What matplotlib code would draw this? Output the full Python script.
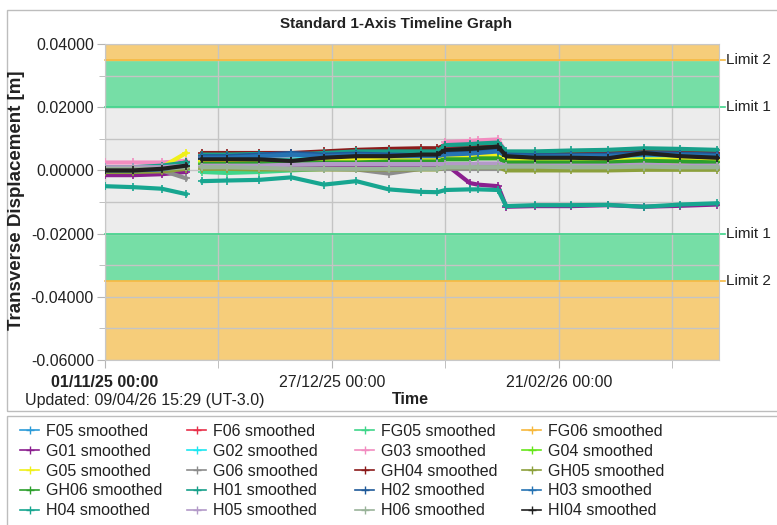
import numpy as np
import matplotlib
matplotlib.use("Agg")
import matplotlib.pyplot as plt
import matplotlib.dates as mdates
from matplotlib.lines import Line2D
from matplotlib.patches import Rectangle
from matplotlib.ticker import FixedLocator, FormatStrFormatter

plt.rcParams['font.family'] = ['Liberation Sans', 'DejaVu Sans']

# sample days after 01/11/25 (nan column = data gap)
days = [0, 7, 14, 20, 22, 24, 30, 38, 46, 54, 62, 70, 78, 82, 84, 90, 92, 97, 99, 106, 115, 124, 133, 142, 151]
nan = np.nan

# displacement values in mm
F05 = [0.5, 0.5, 0.8, 2.0, nan, 4.0, 4.0, 4.0, 3.8, 4.5, 5.0, 5.0, 5.2, 5.2, 6.8, 7.0, 7.3, 7.5, 4.8, 4.5, 4.5, 4.3, 5.8, 5.0, 4.5]
F06 = [1.0, 1.0, 1.2, 2.5, nan, 4.0, 4.2, 4.0, 3.8, 4.5, 5.0, 5.2, 5.5, 5.5, 7.0, 7.2, 7.5, 7.8, 4.0, 4.0, 3.8, 3.8, 5.0, 4.2, 4.0]
FG05 = [-0.5, -0.5, -0.3, 0.0, nan, -0.5, -0.8, -0.5, 0.0, 0.5, 0.5, 0.5, 0.5, 0.5, 1.5, 1.5, 1.5, 1.5, 1.0, 1.0, 1.0, 1.2, 1.2, 1.2, 1.0]
FG06 = [1.0, 1.0, 1.0, 2.0, nan, 3.0, 3.0, 3.0, 2.8, 3.0, 3.0, 3.2, 3.2, 3.2, 4.0, 4.0, 4.2, 4.2, 2.5, 2.5, 2.3, 2.5, 2.8, 2.8, 2.5]
G01 = [-1.5, -1.5, -1.2, -0.5, nan, 1.0, 1.0, 1.2, 1.5, 1.5, 1.5, 1.8, 1.8, 1.8, 2.0, -4.0, -4.5, -5.0, -11.5, -11.3, -11.3, -11.0, -11.5, -11.2, -10.8]
G02 = [0.5, 0.5, 0.8, 2.0, nan, 3.5, 3.5, 3.5, 3.5, 4.0, 4.5, 4.5, 4.5, 4.5, 6.0, 6.2, 6.5, 6.5, 3.5, 3.0, 3.2, 3.2, 4.0, 3.5, 3.2]
G03 = [2.5, 2.5, 2.5, 3.0, nan, 5.0, 5.0, 4.8, 4.8, 5.0, 5.5, 5.5, 5.5, 5.5, 9.0, 9.3, 9.5, 9.8, 5.5, 5.2, 5.5, 5.8, 6.0, 6.0, 5.8]
G04 = [0.0, 0.0, 0.3, 1.0, nan, 2.5, 2.5, 2.5, 2.8, 3.0, 3.0, 3.2, 3.2, 3.2, 4.0, 4.0, 4.0, 4.2, 2.8, 2.8, 2.8, 3.0, 3.2, 3.0, 2.8]
G05 = [0.5, 0.5, 1.0, 5.5, nan, 3.0, 3.0, 3.0, 3.0, 3.2, 3.5, 3.5, 3.5, 3.5, 4.5, 4.5, 4.5, 4.8, 3.5, 3.2, 3.5, 3.3, 3.5, 3.5, 3.3]
G06 = [0.0, 0.0, 0.0, -2.5, nan, 1.0, 0.8, 0.8, 0.5, 0.5, 0.3, -1.0, 0.5, 0.5, 0.5, 0.5, 0.5, 0.5, 1.0, 0.8, 1.0, 1.0, 1.0, 1.0, 0.8]
GH04 = [0.5, 0.5, 1.0, 2.5, nan, 5.5, 5.5, 5.5, 5.5, 6.0, 6.5, 6.8, 7.0, 7.0, 8.0, 8.0, 8.2, 8.5, 5.5, 5.5, 5.3, 5.5, 6.0, 5.8, 5.5]
GH05 = [-0.5, -0.5, -0.3, 0.5, nan, 0.5, 0.5, 0.3, 0.3, 0.3, 0.3, 0.3, 0.3, 0.3, 1.0, 1.0, 1.0, 1.0, 0.0, 0.0, 0.0, 0.0, 0.2, 0.2, 0.2]
GH06 = [0.5, 0.5, 0.5, 1.5, nan, 2.0, 2.0, 2.2, 2.2, 2.5, 2.5, 2.8, 2.8, 2.8, 3.5, 3.5, 3.8, 3.8, 2.5, 2.5, 2.5, 2.5, 3.0, 2.8, 2.5]
H01 = [1.0, 1.0, 1.5, 2.5, nan, 5.0, 5.0, 5.2, 5.0, 5.5, 6.0, 6.0, 6.0, 6.0, 8.0, 8.3, 8.5, 8.8, 6.0, 6.0, 6.3, 6.5, 7.0, 6.8, 6.5]
H02 = [0.5, 0.3, 0.5, 1.5, nan, 4.5, 4.5, 5.0, 5.5, 5.0, 5.3, 5.0, 4.8, 4.8, 5.5, 5.8, 6.0, 6.5, 5.0, 4.8, 4.8, 5.0, 5.5, 5.3, 5.0]
H03 = [0.0, 0.0, 0.3, 1.5, nan, 4.0, 4.0, 4.5, 5.0, 4.5, 4.8, 4.5, 4.5, 4.5, 5.0, 5.3, 5.5, 6.0, 4.5, 4.3, 4.5, 4.5, 5.0, 4.8, 4.5]
H04 = [-5.0, -5.3, -5.8, -7.5, nan, -3.4, -3.2, -3.0, -2.2, -4.5, -3.4, -6.0, -6.8, -6.9, -6.2, -6.0, -6.0, -6.2, -11.3, -11.0, -11.0, -10.9, -11.5, -10.8, -10.4]
H05 = [1.0, 1.0, 1.0, 1.5, nan, 1.5, 1.5, 1.5, 1.8, 2.0, 2.0, 2.0, 2.0, 2.0, 2.0, 2.0, 2.2, 2.2, 1.5, 1.5, 1.5, 1.5, 1.8, 1.5, 1.5]
H06 = [0.5, 0.5, 0.5, 1.0, nan, 1.0, 1.0, 0.8, 0.5, 0.5, 0.5, 0.5, 0.5, 0.5, 1.0, 1.0, 1.0, 1.0, 1.2, 1.2, 1.0, 1.0, 1.2, 1.0, 1.0]
HI04 = [0.0, 0.0, 0.5, 1.5, nan, 3.5, 3.5, 3.5, 3.0, 4.0, 4.5, 4.5, 5.0, 5.0, 6.5, 6.8, 7.0, 7.5, 4.5, 4.0, 4.0, 3.8, 5.5, 4.5, 4.0]

names = ['F05', 'F06', 'FG05', 'FG06', 'G01', 'G02', 'G03', 'G04', 'G05', 'G06',
         'GH04', 'GH05', 'GH06', 'H01', 'H02', 'H03', 'H04', 'H05', 'H06', 'HI04']
series = [F05, F06, FG05, FG06, G01, G02, G03, G04, G05, G06,
          GH04, GH05, GH06, H01, H02, H03, H04, H05, H06, HI04]
colors = ['#2b9bd8', '#e8304a', '#3fd68a', '#f7b83c', '#8b1f8f', '#1ce6f0', '#f28cc0', '#66e61a', '#f0f01a', '#8c8c8c',
          '#8b1a1a', '#8ca03c', '#2ca02c', '#17a08a', '#1f5a99', '#2673b3', '#17a690', '#b39ac8', '#99b399', '#202020']

limit1 = 0.02
limit2 = 0.035
y_top, y_bot = 0.04, -0.06

start = np.datetime64('2025-11-01T00:00')
x = start + np.array(days) * np.timedelta64(1, 'D')
x = x.astype('datetime64[m]').astype(object)

fig = plt.figure(figsize=(7.77, 5.25), dpi=100)
ax = fig.add_axes([105 / 777, 1 - 360 / 525, 614 / 777, 316 / 525])

# bands
ax.axhspan(-limit1, limit1, color='#ececec', zorder=0)
ax.axhspan(limit1, limit2, color='#76dea6', zorder=0)
ax.axhspan(-limit2, -limit1, color='#76dea6', zorder=0)
ax.axhspan(limit2, y_top, color='#f6cd7a', zorder=0)
ax.axhspan(y_bot, -limit2, color='#f6cd7a', zorder=0)

for name, vals, c in zip(names, series, colors):
    ax.plot(x, np.array(vals) / 1000, color=c, lw=3, marker='+', ms=6, mew=1.2, zorder=3)

ax.set_ylim(y_bot, y_top)
ax.set_xlim(start.astype(object), (start + np.timedelta64(151 * 24 + 12, 'h')).astype(object))

# limit lines and labels
for val, c, lab in [(limit2, '#f5b942', 'Limit 2'), (limit1, '#3ed68a', 'Limit 1'),
                    (-limit1, '#3ed68a', 'Limit 1'), (-limit2, '#f5b942', 'Limit 2')]:
    ax.plot([0, 1.01], [val, val], transform=ax.get_yaxis_transform(), color=c, lw=1.2,
            clip_on=False, zorder=2)
    ax.text(1.012, val, lab, transform=ax.get_yaxis_transform(), va='center', ha='left',
            fontsize=11, color='#222222')

# ticks
major_x = [start + np.timedelta64(d, 'D') for d in (0, 56, 112)]
minor_x = [start + np.timedelta64(d, 'D') for d in (28, 84, 140)]
ax.xaxis.set_major_locator(FixedLocator([mdates.date2num(d.astype(object)) for d in major_x]))
ax.xaxis.set_minor_locator(FixedLocator([mdates.date2num(d.astype(object)) for d in minor_x]))
ax.xaxis.set_major_formatter(mdates.DateFormatter('%d/%m/%y %H:%M'))
ax.yaxis.set_major_locator(FixedLocator([-0.06, -0.04, -0.02, 0.0, 0.02, 0.04]))
ax.yaxis.set_minor_locator(FixedLocator([-0.05, -0.03, -0.01, 0.01, 0.03]))
ax.yaxis.set_major_formatter(FormatStrFormatter('%.5f'))
ax.tick_params(which='both', direction='out', color='#b5b5b5', labelsize=11.5, labelcolor='#222222')
ax.tick_params(axis='x', which='both', length=6, pad=5)
ax.tick_params(axis='y', which='major', length=6, pad=2)
ax.tick_params(axis='y', which='minor', length=4)
ax.grid(which='both', color='#c4c4c4', lw=1, zorder=1)
ax.set_axisbelow(True)
for s in ax.spines.values():
    s.set_color('#c8c8c8')
ax.get_xticklabels()[0].set_fontweight('bold')

fig.text(396 / 777, 1 - 24 / 525, 'Standard 1-Axis Timeline Graph', ha='center', va='center',
         fontsize=11, fontweight='bold', color='#222222')
fig.text(17 / 777, 1 - 200 / 525, 'Transverse Displacement [m]', rotation=90, ha='center',
         va='center', fontsize=13.5, fontweight='bold', color='#222222')
fig.text(410 / 777, 1 - 400 / 525, 'Time', ha='center', va='center', fontsize=11.5,
         fontweight='bold', color='#222222')
fig.text(25 / 777, 1 - 400 / 525, 'Updated: 09/04/26 15:29 (UT-3.0)', ha='left', va='center',
         fontsize=11.5, color='#222222')

# frames
fig.patches.append(Rectangle((7 / 777, 1 - 411 / 525), 0.995, 401 / 525, transform=fig.transFigure,
                             fill=False, edgecolor='#bdbdbd', lw=1))
fig.patches.append(Rectangle((7 / 777, -0.01), 0.995, 1 - 416 / 525 + 0.01, transform=fig.transFigure,
                             fill=False, edgecolor='#bdbdbd', lw=1))

# legend, one per column so the columns sit at fixed positions
col_x = [20, 187, 355, 522]
for c in range(4):
    handles = []
    labels = []
    for r in range(5):
        i = r * 4 + c
        handles.append(Line2D([], [], color=colors[i], lw=1.2, marker='+', ms=6, mew=1))
        labels.append(names[i] + ' smoothed')
    fig.legend(handles, labels, loc='upper left', bbox_to_anchor=(col_x[c] / 777, 1 - 424 / 525),
               frameon=False, fontsize=11.5, handlelength=1.2, handletextpad=0.45,
               labelspacing=0.3, borderpad=0, borderaxespad=0, labelcolor='#222222')

fig.savefig('out.png', dpi=100)
